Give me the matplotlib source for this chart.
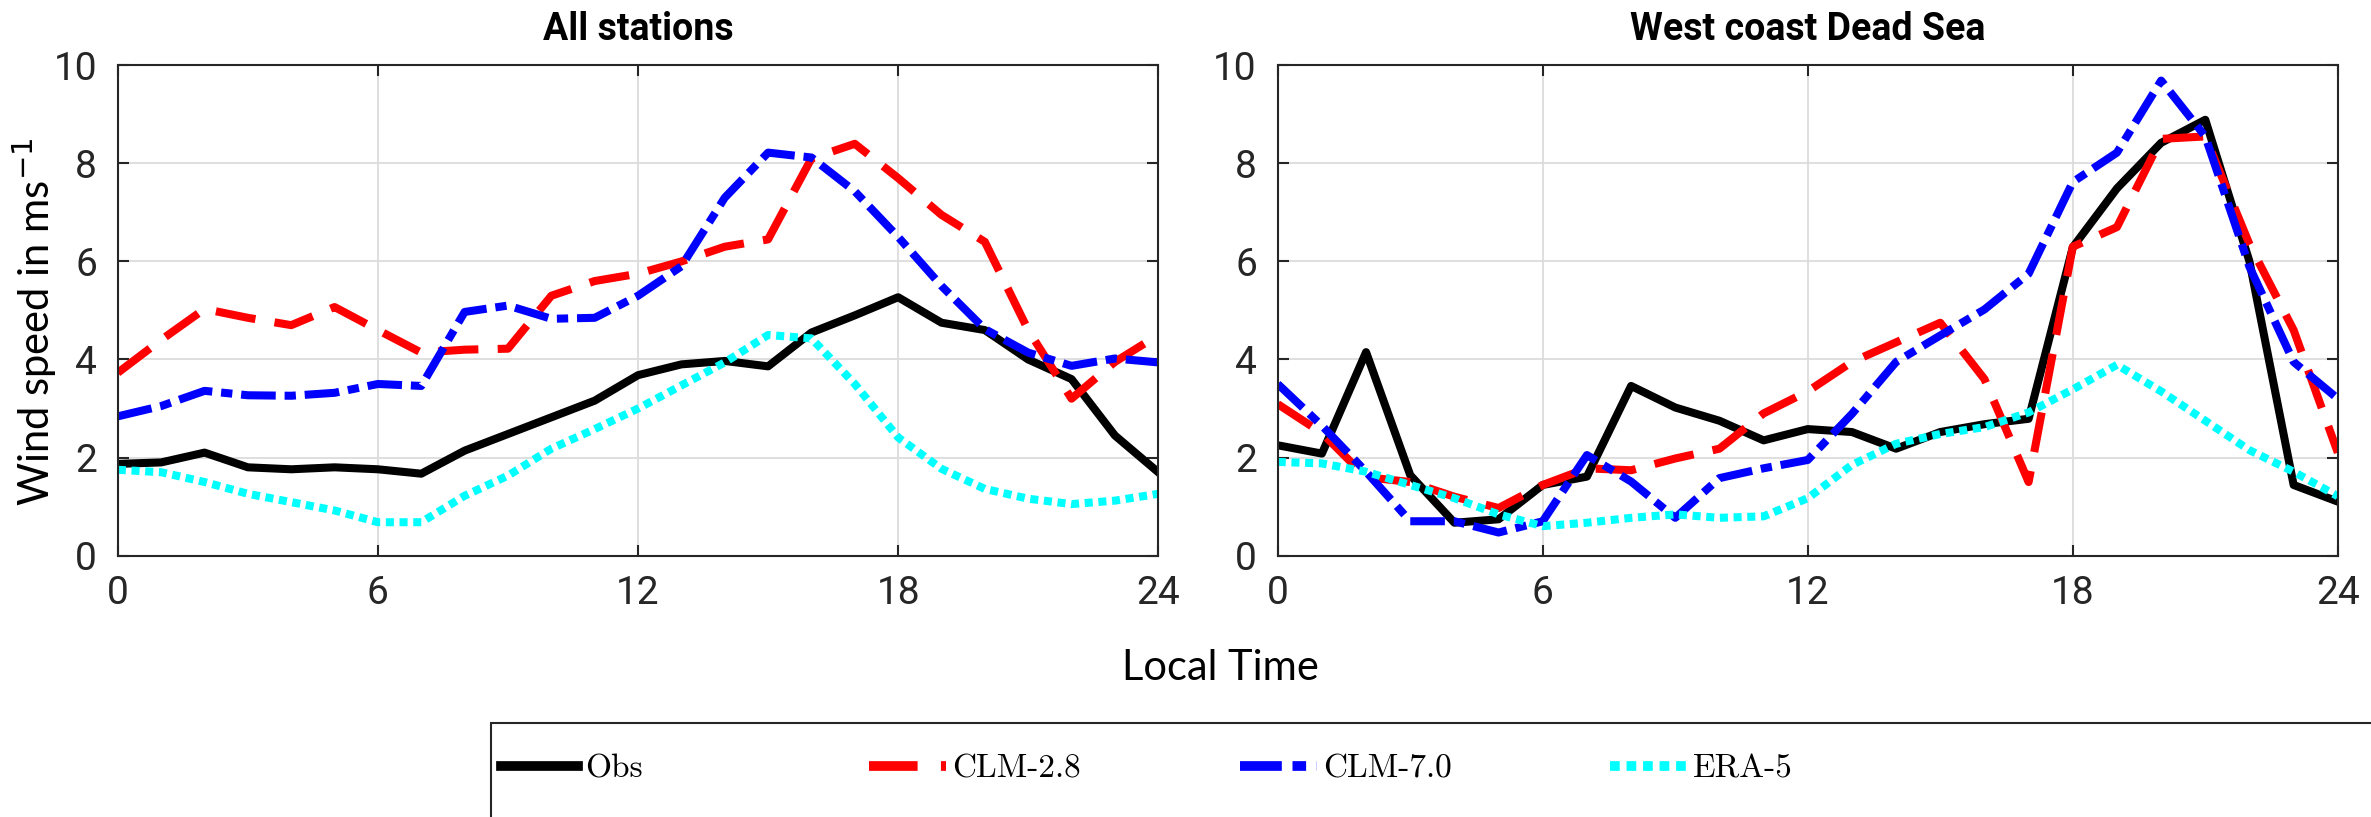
import matplotlib
matplotlib.use("Agg")
import matplotlib.pyplot as plt
from matplotlib.patches import Rectangle
from matplotlib.lines import Line2D

hours = list(range(25))
xticks = [0, 6, 12, 18, 24]
yticks = [0, 2, 4, 6, 8, 10]

# All stations
obs_all = [1.87, 1.9, 2.1, 1.8, 1.76, 1.8, 1.76, 1.67, 2.14, 2.48, 2.82, 3.16, 3.68, 3.9,
           3.97, 3.86, 4.55, 4.9, 5.27, 4.75, 4.6, 4.0, 3.6, 2.45, 1.7]
clm28_all = [3.73, 4.4, 5.03, 4.85, 4.7, 5.07, 4.6, 4.14, 4.2, 4.22, 5.3, 5.6, 5.75, 6.0,
             6.3, 6.45, 8.1, 8.4, 7.7, 6.95, 6.4, 4.6, 3.2, 3.95, 4.5]
clm70_all = [2.84, 3.05, 3.36, 3.27, 3.26, 3.32, 3.5, 3.46, 4.97, 5.1, 4.83, 4.85, 5.3, 5.9,
             7.3, 8.22, 8.12, 7.43, 6.5, 5.5, 4.62, 4.14, 3.87, 4.02, 3.94]
era5_all = [1.75, 1.7, 1.5, 1.26, 1.09, 0.92, 0.68, 0.68, 1.22, 1.63, 2.18, 2.58, 3.0, 3.47,
            3.94, 4.5, 4.43, 3.5, 2.41, 1.77, 1.36, 1.16, 1.05, 1.12, 1.26]

# West coast Dead Sea
obs_west = [2.25, 2.08, 4.15, 1.64, 0.67, 0.74, 1.44, 1.61, 3.46, 3.02, 2.75, 2.35, 2.58,
            2.52, 2.18, 2.52, 2.68, 2.79, 6.29, 7.49, 8.42, 8.89, 6.0, 1.44, 1.1]
clm28_west = [3.09, 2.5, 1.6, 1.5, 1.2, 0.97, 1.44, 1.78, 1.74, 1.98, 2.18, 2.9, 3.35,
              3.95, 4.35, 4.75, 3.6, 1.5, 6.3, 6.7, 8.5, 8.55, 6.35, 4.6, 2.1]
clm70_west = [3.5, 2.65, 1.71, 0.7, 0.7, 0.47, 0.7, 2.05, 1.51, 0.77, 1.58, 1.78, 1.95,
              2.89, 3.95, 4.49, 5.02, 5.75, 7.62, 8.22, 9.69, 8.55, 5.89, 3.95, 3.2]
era5_west = [1.91, 1.88, 1.71, 1.44, 1.17, 0.84, 0.6, 0.67, 0.77, 0.84, 0.77, 0.8, 1.17,
             1.85, 2.28, 2.48, 2.62, 2.92, 3.39, 3.89, 3.35, 2.75, 2.15, 1.71, 1.21]

titles = ["All stations", "West coast Dead Sea"]
labels = ["Obs", "CLM-2.8", "CLM-7.0", "ERA-5"]
colors = ["black", "red", "blue", "cyan"]
dashes = [None, (5, 2.4), (4.3, 1.1, 1.4, 1.1), (1, 0.7)]

tickfont = ["Roboto", "DejaVu Sans"]
labfont = ["Lato", "DejaVu Sans"]
dark = "#262626"

fig = plt.figure(figsize=(23.71, 8.17), dpi=100)
ax1 = fig.add_axes([0.0497, 0.320, 0.4388, 0.600])
ax2 = fig.add_axes([0.5389, 0.320, 0.4471, 0.600])

panels = [
    (ax1, [obs_all, clm28_all, clm70_all, era5_all]),
    (ax2, [obs_west, clm28_west, clm70_west, era5_west]),
]

for (ax, series), title in zip(panels, titles):
    for vals, c, d, lab in zip(series, colors, dashes, labels):
        line, = ax.plot(hours, vals, color=c, lw=5.8, label=lab)
        if d is not None:
            line.set_dashes(d)
            line.set_dash_capstyle("butt")
    ax.set_xlim(0, 24)
    ax.set_ylim(0, 10)
    ax.set_xticks(xticks)
    ax.set_yticks(yticks)
    ax.grid(True, color="#dcdcdc", lw=1.3)
    ax.set_axisbelow(True)
    ax.tick_params(direction="in", length=8, width=1.5, colors=dark,
                   top=True, right=True, labelsize=28)
    ax.tick_params(axis="x", pad=14)
    ax.tick_params(axis="y", pad=15)
    for lbl in ax.get_xticklabels() + ax.get_yticklabels():
        lbl.set_family(tickfont)
    for sp in ax.spines.values():
        sp.set_color(dark)
        sp.set_linewidth(1.5)
    ax.set_title(title, fontsize=27, fontweight="bold", family=tickfont, pad=18)

fig.text(0.0148, 0.606, "Wind speed in ms$^{-1}$", rotation=90, ha="center", va="center",
         fontsize=30, family=labfont)
fig.text(0.5146, 0.182, "Local Time", ha="center", va="center", fontsize=30,
         family=labfont)

# legend box running off the figure
fig.add_artist(Rectangle((0.207, -0.1), 0.9, 0.215, transform=fig.transFigure,
                         fill=False, edgecolor=dark, lw=1.5))
starts = [0.2115, 0.3665, 0.523, 0.679]
for c, d, lab, x0 in zip(colors, dashes, labels, starts):
    h = Line2D([], [], color=c, lw=7)
    if d is not None:
        h.set_dashes(d)
        h.set_dash_capstyle("butt")
    fig.legend(handles=[h], labels=[lab], loc="center left", bbox_to_anchor=(x0, 0.059),
               frameon=False, borderpad=0, borderaxespad=0, handlelength=2.3,
               handletextpad=0.2, prop={"family": "cmr10", "size": 24})

fig.savefig("out.png", dpi=100)
